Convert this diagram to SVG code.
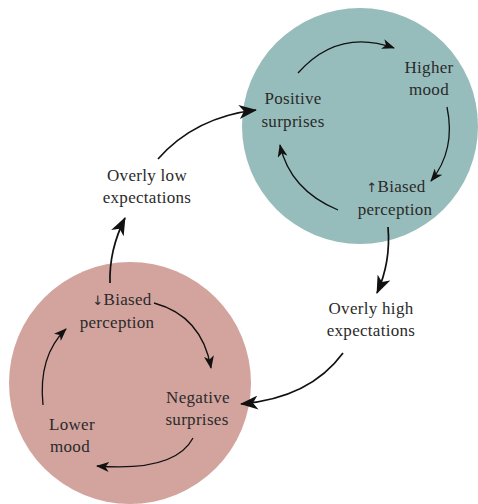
<svg xmlns="http://www.w3.org/2000/svg" width="478" height="504" viewBox="0 0 478 504">
  <style>
    text { font-family: 'Liberation Serif', 'Times New Roman', 'DejaVu Serif', serif; font-size: 17px; fill: #2a2a2a; text-anchor: middle; letter-spacing: 0.3px; }
    .in { fill: none; stroke: #111; stroke-width: 1.3; marker-end: url(#headSmall); }
    .out { fill: none; stroke: #111; stroke-width: 1.7; marker-end: url(#headLarge); }
  </style>
  <defs>
    <marker id="headSmall" viewBox="0 0 13 10" refX="12" refY="5" markerWidth="13" markerHeight="10" markerUnits="userSpaceOnUse" orient="auto">
      <path d="M13,5 L0,0 L3.5,5 L0,10 Z" fill="#111"/>
    </marker>
    <marker id="headLarge" viewBox="0 0 18 14" refX="17" refY="7" markerWidth="18" markerHeight="14" markerUnits="userSpaceOnUse" orient="auto">
      <path d="M18,7 L0,0 L5,7 L0,14 Z" fill="#111"/>
    </marker>
  </defs>

  <rect width="478" height="504" fill="#ffffff"/>

  <!-- upward spiral -->
  <g id="cycle-positive">
    <circle cx="360" cy="126" r="118" fill="#96bdbb"/>
  </g>
  <!-- downward spiral -->
  <g id="cycle-negative">
    <circle cx="130" cy="383" r="121" fill="#d3a49e"/>
  </g>

  <g id="labels" font-family="Liberation Serif, serif">
    <g id="node-positive-surprises">
      <text x="293" y="104">Positive</text>
      <text x="293" y="127">surprises</text>
    </g>
    <g id="node-higher-mood">
      <text x="429" y="73">Higher</text>
      <text x="429" y="95">mood</text>
    </g>
    <g id="node-biased-up">
      <text x="396" y="192"><tspan font-family="DejaVu Sans, sans-serif" font-size="13">↑</tspan>Biased</text>
      <text x="395" y="215">perception</text>
    </g>
    <g id="node-overly-low">
      <text x="147" y="181">Overly low</text>
      <text x="147" y="203">expectations</text>
    </g>
    <g id="node-overly-high">
      <text x="371" y="314">Overly high</text>
      <text x="371" y="336">expectations</text>
    </g>
    <g id="node-biased-down">
      <text x="122" y="305"><tspan font-family="DejaVu Sans, sans-serif" font-size="13">↓</tspan>Biased</text>
      <text x="117" y="328">perception</text>
    </g>
    <g id="node-negative-surprises">
      <text x="198" y="403">Negative</text>
      <text x="197" y="425">surprises</text>
    </g>
    <g id="node-lower-mood">
      <text x="72" y="430">Lower</text>
      <text x="70" y="452">mood</text>
    </g>
  </g>

  <g id="connectors">
    <path class="in" d="M298,73 Q338,28 394,48"/>
    <path class="in" d="M447,107 Q456,150 431,181"/>
    <path class="in" d="M338,210 Q290,190 280,145"/>
    <path class="in" d="M154,303 Q202,316 211,368"/>
    <path class="in" d="M193,438 Q175,472 97,466"/>
    <path class="in" d="M43,405 Q38,356 66,329"/>
    <path class="out" d="M158,159 Q195,117 256,110"/>
    <path class="out" d="M110,283 Q109,250 125,218"/>
    <path class="out" d="M388,227 Q391,262 377,293"/>
    <path class="out" d="M343,353 Q310,398 241,404"/>
  </g>
</svg>
